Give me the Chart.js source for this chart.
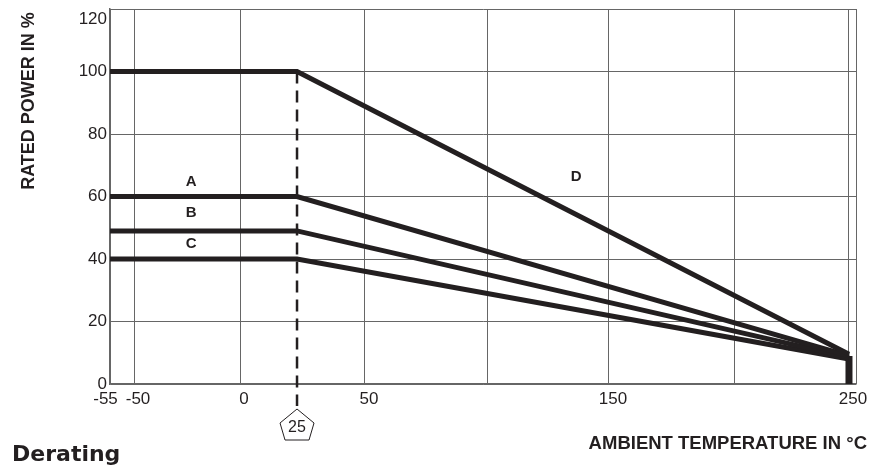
<!DOCTYPE html>
<html>
<head>
<meta charset="utf-8">
<script src="https://cdn.jsdelivr.net/npm/chart.js@4.4.0/dist/chart.umd.min.js"></script>
<style>
  html, body { margin: 0; padding: 0; background: #fff; }
  canvas { display: block; }
</style>
</head>
<body>
<canvas id="derating" width="870" height="468"></canvas>
<script>
// ambient temperature (°C) break points of the curves
const temps = [-55, 25, 250];

// rated power in %
const powerA = [60, 60, 9];
const powerB = [49, 49, 8.5];
const powerC = [40, 40, 8];
const powerD = [100, 100, 9.5];

// all curves drop to zero at the max temperature
const cutoffTemps = [250, 250];
const cutoffPower = [9, 0];

// axes
const xTicks = [-55, -50, 0, 50, 100, 150, 200, 250, 252];
const xLabelled = [-55, -50, 0, 50, 150, 250];
const yTicks = [0, 20, 40, 60, 80, 100, 120];

// the printed x axis is not evenly spaced, these are its stops
const xStops = [-55, -50, 0, 25, 50, 100, 150, 200, 250, 252];
const xStopPos = [0, 0.0322, 0.1743, 0.2507, 0.3418, 0.5054, 0.6689, 0.8365, 0.9906, 1];

const curveLabels = [
  { text: "A", x: -23, y: 64.6 },
  { text: "B", x: -23, y: 54.7 },
  { text: "C", x: -23, y: 44.8 },
  { text: "D", x: 136.5, y: 66.2 }
];

const ink = "#231f20";
const gridColor = "#666";
const sans = "'Liberation Sans', Arial, sans-serif";

function segment(v) {
  let i = 0;
  while (i < xStops.length - 2 && v > xStops[i + 1]) i++;
  return i;
}

class PrintedScale extends Chart.LinearScale {
  getPixelForValue(value) {
    const i = segment(value);
    const t = (value - xStops[i]) / (xStops[i + 1] - xStops[i]);
    const f = xStopPos[i] + t * (xStopPos[i + 1] - xStopPos[i]);
    return this.left + f * this.width;
  }
  getValueForPixel(pixel) {
    const f = (pixel - this.left) / this.width;
    let i = 0;
    while (i < xStopPos.length - 2 && f > xStopPos[i + 1]) i++;
    const t = (f - xStopPos[i]) / (xStopPos[i + 1] - xStopPos[i]);
    return xStops[i] + t * (xStops[i + 1] - xStops[i]);
  }
}
PrintedScale.id = "printed";
PrintedScale.defaults = {};
Chart.register(PrintedScale);

const points = (xs, ys) => ys.map((y, i) => ({ x: xs[i], y: y }));

const curve = (label, xs, ys, width) => ({
  label: label,
  data: points(xs, ys),
  borderColor: ink,
  borderWidth: width || 5,
  borderJoinStyle: "miter",
  pointRadius: 0,
  tension: 0
});

const extras = {
  id: "extras",
  afterDraw(chart) {
    const ctx = chart.ctx;
    const xs = chart.scales.x;
    const ys = chart.scales.y;
    ctx.save();
    ctx.fillStyle = ink;
    ctx.strokeStyle = ink;

    // curve letters
    ctx.font = "bold 15px " + sans;
    ctx.textAlign = "center";
    ctx.textBaseline = "middle";
    curveLabels.forEach(l => {
      ctx.fillText(l.text, xs.getPixelForValue(l.x), ys.getPixelForValue(l.y));
    });

    // 25 °C marker
    const cx = xs.getPixelForValue(25);
    ctx.lineWidth = 1;
    ctx.beginPath();
    ctx.moveTo(cx, 409);
    ctx.lineTo(cx + 17, 423);
    ctx.lineTo(cx + 12, 440);
    ctx.lineTo(cx - 12, 440);
    ctx.lineTo(cx - 17, 423);
    ctx.closePath();
    ctx.stroke();
    ctx.font = "16px " + sans;
    ctx.fillText("25", cx, 428);

    // axis titles
    ctx.font = "bold 18.5px " + sans;
    ctx.textAlign = "right";
    ctx.fillText("AMBIENT TEMPERATURE IN °C", 867, 444);
    ctx.save();
    ctx.font = "bold 18px " + sans;
    ctx.translate(29, 101);
    ctx.rotate(-Math.PI / 2);
    ctx.textAlign = "center";
    ctx.fillText("RATED POWER IN %", 0, 0);
    ctx.restore();

    // caption
    ctx.font = "bold 22px 'DejaVu Sans', sans-serif";
    ctx.textAlign = "left";
    ctx.textBaseline = "alphabetic";
    ctx.fillText("Derating", 12, 461);
    ctx.restore();
  }
};

new Chart(document.getElementById("derating"), {
  type: "line",
  data: {
    datasets: [
      curve("D", temps, powerD),
      curve("A", temps, powerA),
      curve("B", temps, powerB),
      curve("C", temps, powerC),
      curve("cut-off", cutoffTemps, cutoffPower, 7),
      {
        label: "25 °C",
        data: [{ x: 25, y: 100 }, { x: 25, y: -7 }],
        borderColor: ink,
        borderWidth: 2.5,
        borderDash: [12, 7],
        pointRadius: 0,
        clip: false
      }
    ]
  },
  options: {
    responsive: false,
    animation: false,
    layout: { padding: { top: 9, right: 14, left: 0, bottom: 0 } },
    plugins: {
      legend: { display: false },
      tooltip: { enabled: false }
    },
    scales: {
      x: {
        type: "printed",
        min: -55,
        max: 252,
        afterBuildTicks: s => { s.ticks = xTicks.map(v => ({ value: v })); },
        afterFit: s => { s.height = 84; },
        ticks: {
          autoSkip: false,
          maxRotation: 0,
          padding: 5,
          labelOffset: 4,
          color: ink,
          font: { size: 17, family: sans },
          callback: v => {
            if (!xLabelled.includes(v)) return "";
            return v === -55 ? "-55\u2002\u2002" : String(v);
          }
        },
        grid: { color: gridColor, lineWidth: 1, drawTicks: false },
        border: { color: gridColor, width: 1.5 }
      },
      y: {
        type: "linear",
        min: 0,
        max: 120,
        afterBuildTicks: s => { s.ticks = yTicks.map(v => ({ value: v })); },
        afterFit: s => { s.width = 110; s.paddingTop = 0; s.paddingBottom = 0; },
        ticks: {
          padding: 3,
          color: ink,
          font: { size: 17, family: sans },
          callback: v => (v === 120 ? ["", "120"] : String(v))
        },
        grid: { color: gridColor, lineWidth: 1, drawTicks: false },
        border: { color: gridColor, width: 1.5 }
      }
    }
  },
  plugins: [extras]
});
</script>
</body>
</html>
